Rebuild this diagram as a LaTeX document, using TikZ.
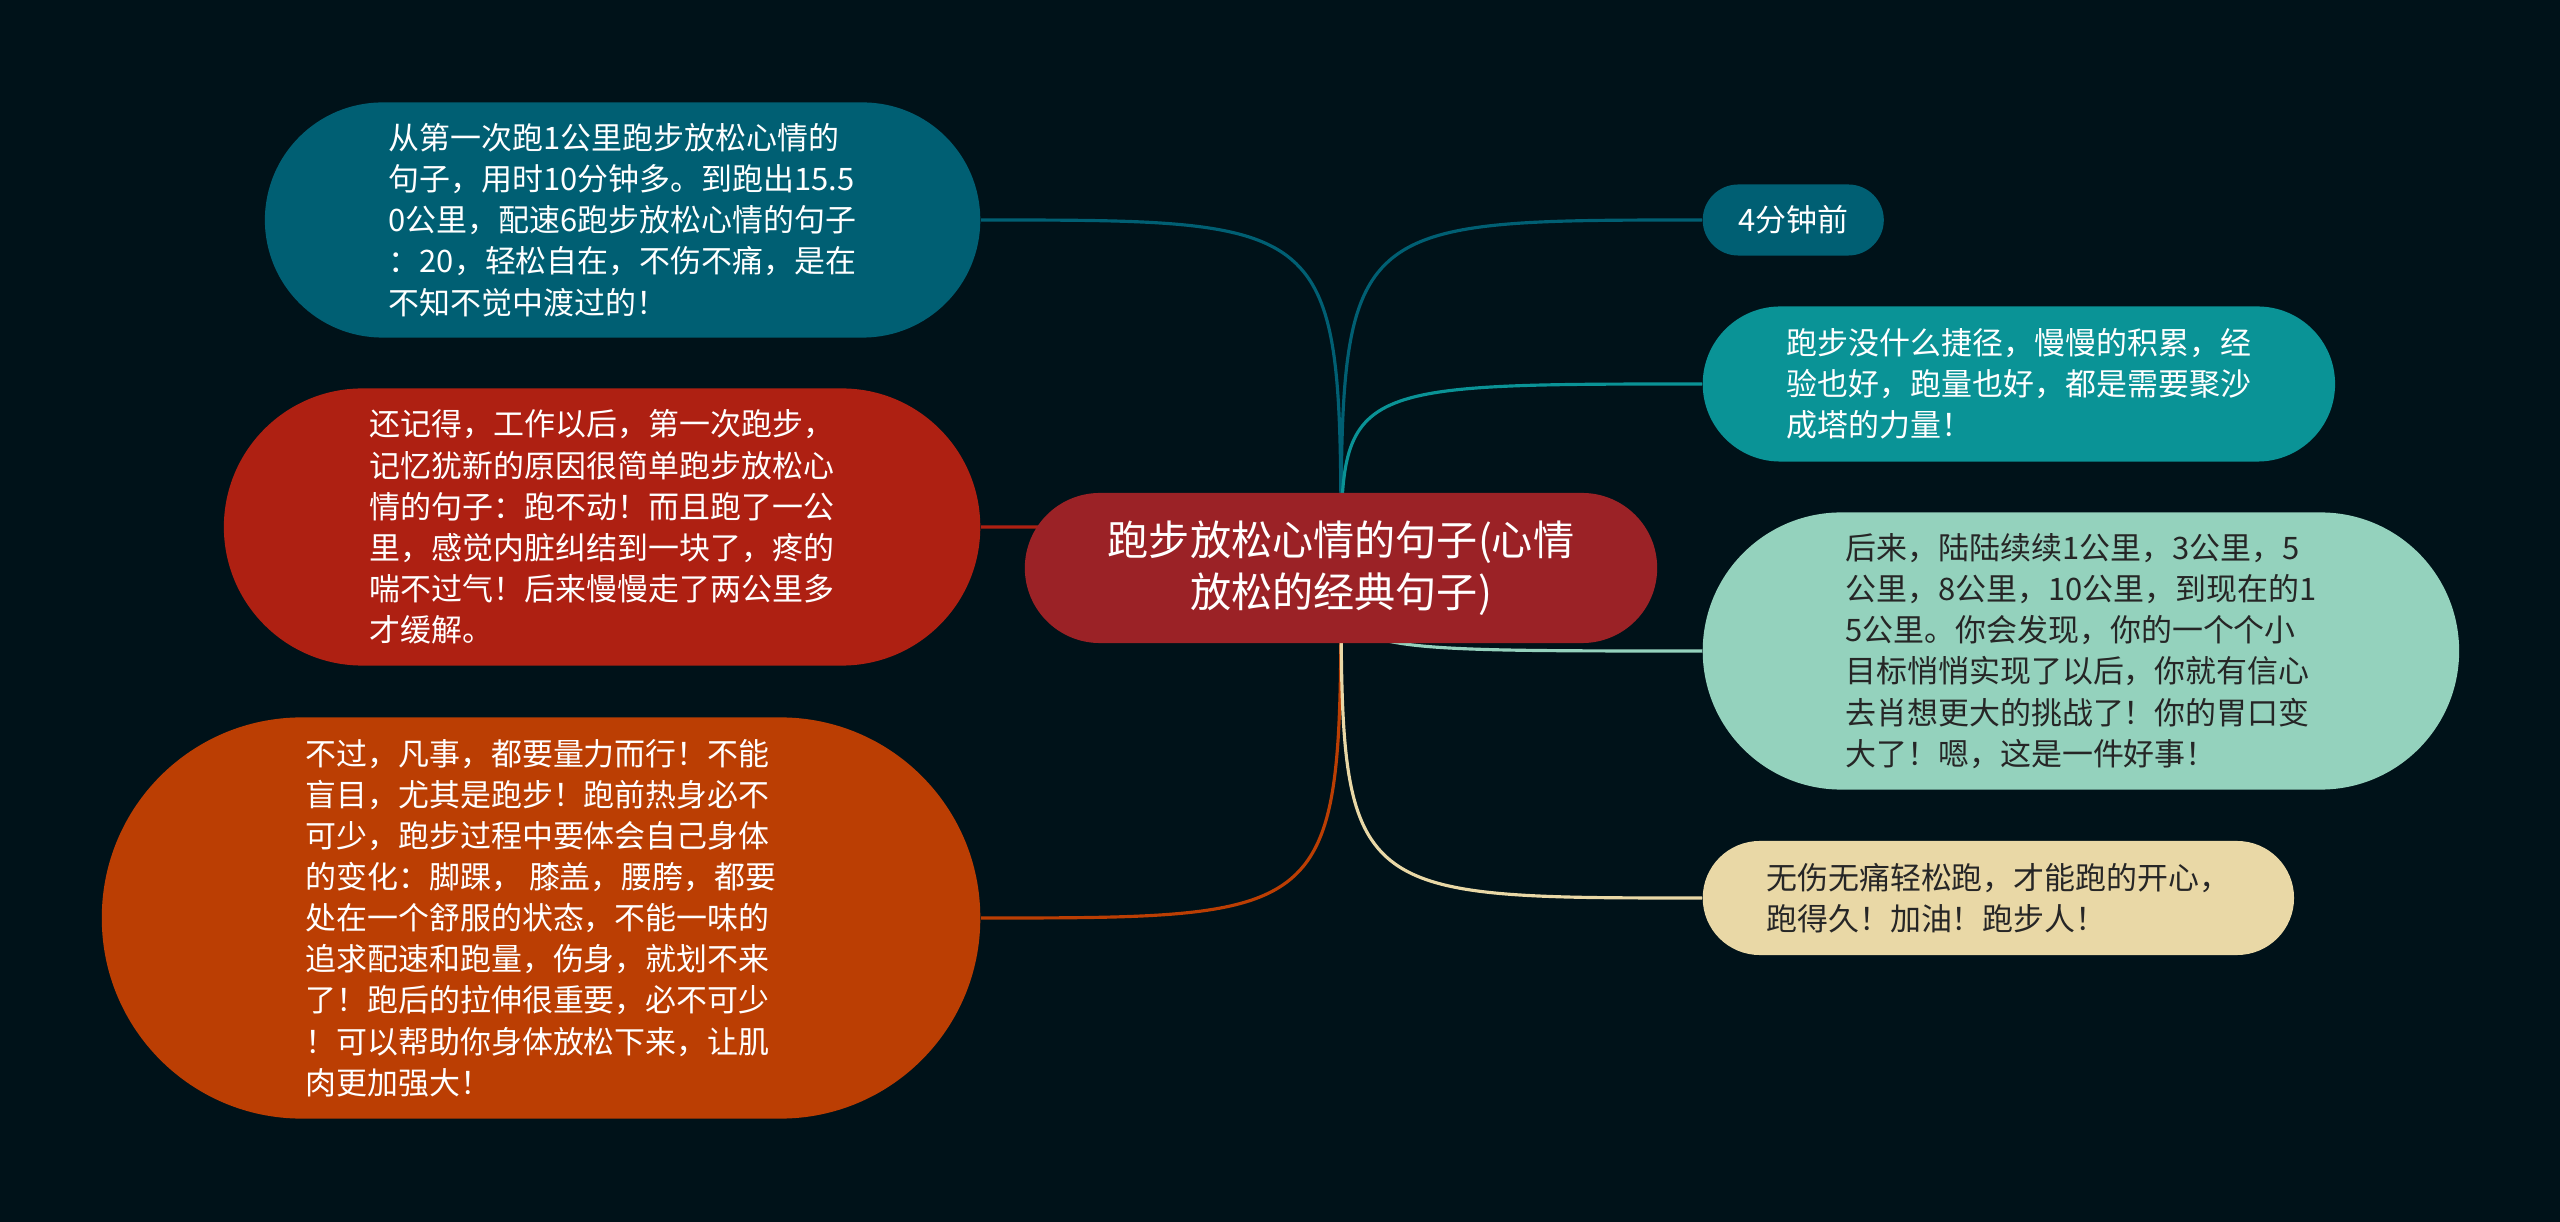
\documentclass[tikz,border=0pt]{standalone}
\usepackage{fontspec}
\newfontfamily\cjk{Noto Sans CJK SC}
\usepackage{tikz}
\usetikzlibrary{positioning}
\usepackage{xcolor}
\pgfdeclarelayer{back}
\pgfsetlayers{back,main}
\definecolor{night}{HTML}{001219}
\definecolor{deepteal}{HTML}{005F73}
\definecolor{seateal}{HTML}{0A9396}
\definecolor{mint}{HTML}{94D2BD}
\definecolor{sand}{HTML}{E9D8A6}
\definecolor{rust}{HTML}{BB3E03}
\definecolor{brick}{HTML}{AE2012}
\definecolor{wine}{HTML}{9B2226}

\begin{document}
\begin{tikzpicture}[x=0.01cm, y=-0.01cm,
  leaf/.style={rectangle, inner sep=0pt, align=left, text=white,
    font=\cjk\fontsize{8.8}{11.7}\selectfont},
  link/.style={line width=0.9pt}]
  % central topic
  \node[rectangle, fill=wine, text=white, align=center, minimum width=6.32cm,
    minimum height=1.5cm, rounded corners=0.75cm,
    font=\cjk\fontsize{11.7}{14.8}\selectfont] (root) at (1341,568)
    {跑步放松心情的句子(心情\\放松的经典句子)};
  % left branches
  \node[leaf, fill=deepteal, anchor=east, minimum width=7.15cm,
    minimum height=2.35cm, rounded corners=1.175cm] (first) at (981,220)
    {从第一次跑1公里跑步放松心情的\\句子，用时10分钟多。到跑出15.5\\0公里，配速6跑步放松心情的句子\\：20，轻松自在，不伤不痛，是在\\不知不觉中渡过的！};
  \node[leaf, fill=brick, anchor=east, minimum width=7.56cm,
    minimum height=2.77cm, rounded corners=1.385cm] (memory) at (981,527)
    {还记得，工作以后，第一次跑步，\\记忆犹新的原因很简单跑步放松心\\情的句子：跑不动！而且跑了一公\\里，感觉内脏纠结到一块了，疼的\\喘不过气！后来慢慢走了两公里多\\才缓解。};
  \node[leaf, fill=rust, anchor=east, minimum width=8.78cm,
    minimum height=4.01cm, rounded corners=2cm] (advice) at (981,918)
    {不过，凡事，都要量力而行！不能\\盲目，尤其是跑步！跑前热身必不\\可少，跑步过程中要体会自己身体\\的变化：脚踝， 膝盖，腰胯，都要\\处在一个舒服的状态，不能一味的\\追求配速和跑量，伤身，就划不来\\了！跑后的拉伸很重要，必不可少\\！可以帮助你身体放松下来，让肌\\肉更加强大！};
  % right branches
  \node[leaf, fill=deepteal, anchor=west, minimum width=1.81cm,
    minimum height=0.71cm, rounded corners=0.355cm] (time) at (1702,220)
    {4分钟前};
  \node[leaf, fill=seateal, anchor=west, minimum width=6.32cm,
    minimum height=1.55cm, rounded corners=0.775cm] (shortcut) at (1702,384)
    {跑步没什么捷径，慢慢的积累，经\\验也好，跑量也好，都是需要聚沙\\成塔的力量！};
  \node[leaf, fill=mint, text=black!85, anchor=west, minimum width=7.56cm,
    minimum height=2.77cm, rounded corners=1.385cm] (progress) at (1702,651)
    {后来，陆陆续续1公里，3公里，5\\公里，8公里，10公里，到现在的1\\5公里。你会发现，你的一个个小\\目标悄悄实现了以后，你就有信心\\去肖想更大的挑战了！你的胃口变\\大了！嗯，这是一件好事！};
  \node[leaf, fill=sand, text=black!85, anchor=west, minimum width=5.91cm,
    minimum height=1.14cm, rounded corners=0.57cm] (cheer) at (1702,898)
    {无伤无痛轻松跑，才能跑的开心，\\跑得久！加油！跑步人！};
  % background and links
  \begin{pgfonlayer}{back}
    \fill[night] (0,0) rectangle (2560,1222);
    \draw[link, deepteal] (root.center) .. controls (root.center |- first.east) .. (first.east);
    \draw[link, brick] (root.center) .. controls (root.center |- memory.east) .. (memory.east);
    \draw[link, rust] (root.center) .. controls (root.center |- advice.east) .. (advice.east);
    \draw[link, deepteal] (root.center) .. controls (root.center |- time.west) .. (time.west);
    \draw[link, seateal] (root.center) .. controls (root.center |- shortcut.west) .. (shortcut.west);
    \draw[link, mint] (root.center) .. controls (root.center |- progress.west) .. (progress.west);
    \draw[link, sand] (root.center) .. controls (root.center |- cheer.west) .. (cheer.west);
  \end{pgfonlayer}
\end{tikzpicture}
\end{document}
